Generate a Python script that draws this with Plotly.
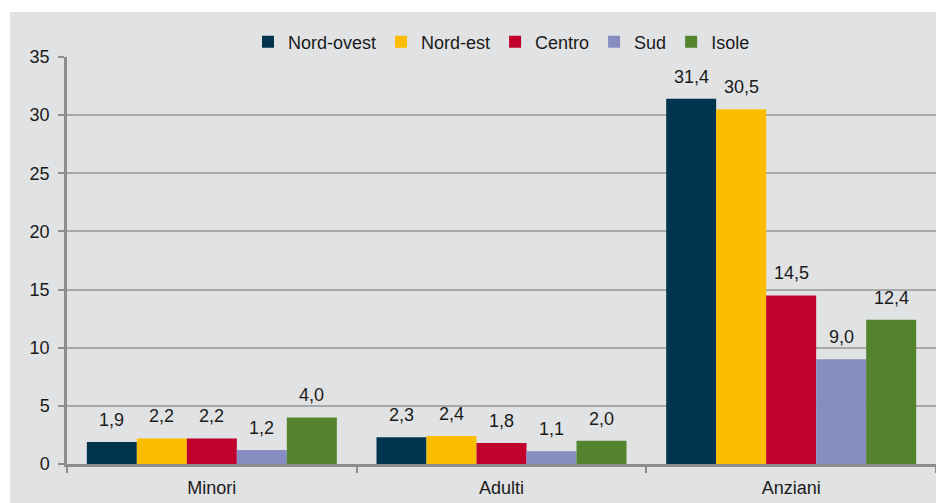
import plotly.graph_objects as go

categories = ["Minori", "Adulti", "Anziani"]
series_names = ["Nord-ovest", "Nord-est", "Centro", "Sud", "Isole"]
nord_ovest = [1.9, 2.3, 31.4]
nord_est = [2.2, 2.4, 30.5]
centro = [2.2, 1.8, 14.5]
sud = [1.2, 1.1, 9.0]
isole = [4.0, 2.0, 12.4]
y_ticks = [0, 5, 10, 15, 20, 25, 30, 35]

series_values = [nord_ovest, nord_est, centro, sud, isole]
colors = ["#00344f", "#fcbd00", "#c1002c", "#878dc0", "#53832c"]

# page body has an 8px margin, so the figure sits 8px right/down
W, H = 944, 503
ml, mr, mt, mb = 59, 16, 49, 47
pw, ph = W - ml - mr, H - mt - mb
bargap = 0.137
font = dict(family="Liberation Sans, Arial, sans-serif", size=18, color="#1a1a1a")

fig = go.Figure()
for name, vals, col in zip(series_names, series_values, colors):
    fig.add_trace(go.Bar(x=categories, y=vals, name=name, marker_color=col,
                         marker_line_width=0))

# data labels, placed a bit above each bar like the original
bar_px = pw / len(categories) * (1 - bargap) / len(series_names)
for i, vals in enumerate(series_values):
    for cat, v in zip(categories, vals):
        fig.add_annotation(x=cat, y=v, text=f"{v:.1f}".replace(".", ","),
                           showarrow=False, yanchor="bottom",
                           xshift=(i - (len(series_names) - 1) / 2) * bar_px,
                           yshift=10, font=font)

# grey chart area with white strip at top/left
fig.add_shape(type="rect", xref="paper", yref="paper", layer="below",
              x0=(2 - ml) / pw, x1=(W - ml + 5) / pw,
              y0=-(mb + 5) / ph, y1=1 + (mt - 4) / ph,
              fillcolor="#e1e2e4", line_width=0)

fig.update_layout(
    width=W, height=H,
    margin=dict(l=ml, r=mr, t=mt, b=mb, pad=0, autoexpand=False),
    paper_bgcolor="white", plot_bgcolor="rgba(0,0,0,0)",
    barmode="group", bargap=bargap, bargroupgap=0,
    font=font,
    showlegend=True,
    legend=dict(orientation="h", x=0.5, xanchor="center", y=1 + 15 / ph,
                yanchor="middle", bgcolor="rgba(0,0,0,0)", font=font,
                itemwidth=30, traceorder="normal"),
)
fig.update_xaxes(showline=True, linecolor="#8c8c8c", linewidth=2.5,
                 ticks="outside", tickson="boundaries", ticklen=6,
                 tickcolor="#8c8c8c", tickwidth=2, showgrid=False,
                 tickfont=font, ticklabelstandoff=6, automargin=False)
fig.update_yaxes(range=[0, 35], tickvals=y_ticks, showline=True,
                 linecolor="#8c8c8c", linewidth=2.5, ticks="outside",
                 ticklen=6, tickcolor="#8c8c8c", tickwidth=2,
                 showgrid=True, gridcolor="#a8a8a8", gridwidth=1.5,
                 zeroline=False, tickfont=font, ticklabelstandoff=5,
                 automargin=False)

fig.write_html("out.html")
